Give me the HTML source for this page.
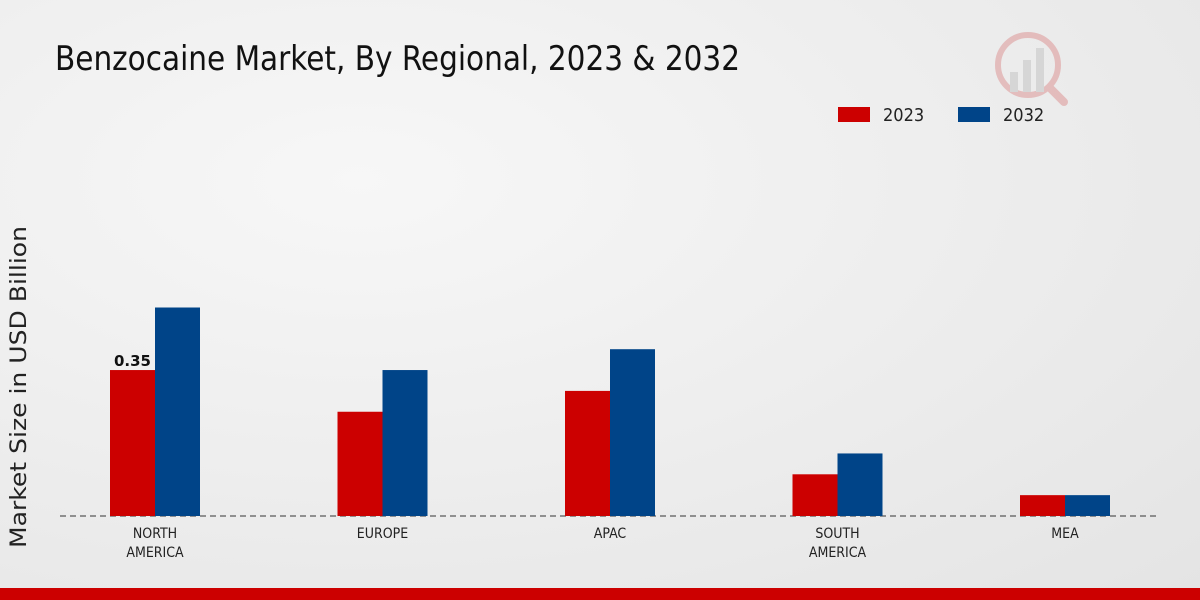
<!DOCTYPE html>
<html><head><meta charset="utf-8"><style>
body{margin:0;width:1200px;height:600px;overflow:hidden;font-family:"DejaVu Sans","Liberation Sans",sans-serif;}
#bg{position:absolute;left:0;top:0;width:1200px;height:600px;background:radial-gradient(ellipse at 30% 30%,#f7f7f7,#e4e4e4);}
</style></head><body>
<div id="bg"></div>
<svg id="c" width="1200" height="600" style="position:absolute;left:0;top:0">
<text x="55" y="70" font-size="34" fill="#111" textLength="685" lengthAdjust="spacingAndGlyphs" font-family="DejaVu Sans Condensed, Liberation Sans, sans-serif">Benzocaine Market, By Regional, 2023 &amp; 2032</text>
<g>
<rect x="838" y="107" width="32" height="15" fill="#cc0000"/>
<text x="883" y="121" font-size="18" fill="#222" font-family="DejaVu Sans Condensed, sans-serif">2023</text>
<rect x="958" y="107" width="32" height="15" fill="#004488"/>
<text x="1003" y="121" font-size="18" fill="#222" font-family="DejaVu Sans Condensed, sans-serif">2032</text>
</g>
<text transform="translate(26,387) rotate(-90)" text-anchor="middle" font-size="22" fill="#222" textLength="322" lengthAdjust="spacingAndGlyphs">Market Size in USD Billion</text>
<line x1="60" y1="516" x2="1160" y2="516" stroke="#333" stroke-dasharray="6,4"/>
<g id="bars"></g>
<g opacity="0.25">
<circle cx="1028" cy="65" r="30" fill="none" stroke="#cc3333" stroke-width="6"/>
<rect x="1010" y="72" width="8" height="20" fill="#999"/><rect x="1023" y="60" width="8" height="32" fill="#999"/><rect x="1036" y="48" width="8" height="44" fill="#999"/>
<line x1="1050" y1="88" x2="1064" y2="102" stroke="#cc3333" stroke-width="8" stroke-linecap="round"/>
</g>
</svg>
<div style="position:absolute;left:0;top:588px;width:1200px;height:12px;background:#cc0000"></div>
<script>
const categories=["NORTH|AMERICA","EUROPE","APAC","SOUTH|AMERICA","MEA"];
const values2023=[0.35,0.25,0.30,0.10,0.05];
const values2032=[0.50,0.35,0.40,0.15,0.05];
const base=516, scale=417, x0=155, step=227.5, bw=45;
const y=v=>base-v*scale;
const g=document.getElementById('bars');
const NS="http://www.w3.org/2000/svg";
categories.forEach((c,i)=>{
 const cx=x0+i*step;
 [[values2023[i],'#cc0000',cx-bw,'2023'],[values2032[i],'#004488',cx,'2032']].forEach(([v,col,x,s])=>{
  const r=document.createElementNS(NS,'rect');
  r.setAttribute('x',x);r.setAttribute('y',y(v));r.setAttribute('width',bw);r.setAttribute('height',base-y(v));r.setAttribute('fill',col);
  
  
  g.appendChild(r);
 });
 c.split('|').forEach((ln,j)=>{
  const t=document.createElementNS(NS,'text');
  t.setAttribute('x',cx);t.setAttribute('y',538+j*19);t.setAttribute('text-anchor','middle');t.setAttribute('font-size','14');t.setAttribute('fill','#222');
  t.setAttribute('font-family','DejaVu Sans Condensed, sans-serif');
  t.textContent=ln;
  
  
  g.appendChild(t);
 });
 if(i===0){
  const t=document.createElementNS(NS,'text');
  t.setAttribute('x',cx-bw/2);t.setAttribute('y',y(values2023[i])-4);t.setAttribute('text-anchor','middle');t.setAttribute('font-size','15');t.setAttribute('font-weight','bold');t.setAttribute('fill','#111');
  t.textContent=values2023[i].toFixed(2);
  
  
  g.appendChild(t);
 }
});
</script>
</body></html>
